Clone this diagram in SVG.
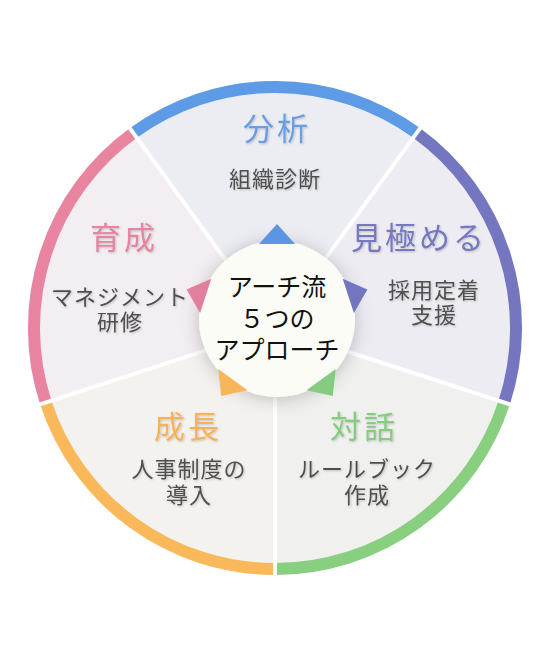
<svg xmlns="http://www.w3.org/2000/svg" width="550" height="650" viewBox="0 0 550 650">
<defs>
<style>
.jp{font-family:"Noto Sans CJK JP","Noto Sans",sans-serif;text-anchor:middle}
.h{font-size:31px;letter-spacing:3px}
.s{font-size:22px;fill:#4f4f4f;letter-spacing:1px}
.c{font-size:25px;fill:#111}
.ring{fill:none;stroke-width:12}
.div{stroke:#fff;stroke-width:4}
</style>
<filter id="sh" x="-40%" y="-40%" width="180%" height="180%">
<feDropShadow dx="0" dy="2" stdDeviation="9" flood-color="#000" flood-opacity="0.22"/>
</filter>
<filter id="ts" x="-10%" y="-20%" width="120%" height="140%">
<feDropShadow dx="1" dy="1" stdDeviation="0.8" flood-color="#000" flood-opacity="0.2"/>
</filter>
</defs>
<rect width="550" height="650" fill="#fff"/>
<g id="sectors">
<path d="M275,328 L129.8,128.2 A247,247 0 0 1 420.2,128.2 Z" fill="#ecedf2"/>
<path d="M275,328 L420.2,128.2 A247,247 0 0 1 509.9,404.3 Z" fill="#edecf2"/>
<path d="M275,328 L509.9,404.3 A247,247 0 0 1 275,575 Z" fill="#f0f1ef"/>
<path d="M275,328 L275,575 A247,247 0 0 1 40.1,404.3 Z" fill="#f3f2ef"/>
<path d="M275,328 L40.1,404.3 A247,247 0 0 1 129.8,128.2 Z" fill="#f2eef1"/>
</g>
<g id="ring">
<path class="ring" stroke="#5e9be6" d="M133.3,133 A241,241 0 0 1 416.7,133"/>
<path class="ring" stroke="#7477bf" d="M416.7,133 A241,241 0 0 1 504.2,402.5"/>
<path class="ring" stroke="#88cf80" d="M504.2,402.5 A241,241 0 0 1 275,569"/>
<path class="ring" stroke="#f9b95b" d="M275,569 A241,241 0 0 1 45.8,402.5"/>
<path class="ring" stroke="#e8849f" d="M45.8,402.5 A241,241 0 0 1 133.3,133"/>
</g>
<g id="connectors">
<line class="div" x1="275" y1="328" x2="423.1" y2="124.1"/>
<line class="div" x1="275" y1="328" x2="514.7" y2="405.9"/>
<line class="div" x1="275" y1="328" x2="275" y2="580"/>
<line class="div" x1="275" y1="328" x2="35.3" y2="405.9"/>
<line class="div" x1="275" y1="328" x2="126.9" y2="124.1"/>
</g>
<g id="center">
<circle cx="277" cy="319" r="78" fill="#fbfcf6" filter="url(#sh)"/>
<text class="jp c" x="277" y="296">アーチ流</text>
<text class="jp c" x="277" y="328">５つの</text>
<text class="jp c" x="277" y="359">アプローチ</text>
</g>
<g id="arrows">
<polygon points="259,244 295,244 277,224" fill="#5b95e3"/>
<polygon points="353.9,312.9 342.7,278.7 367.4,289.6" fill="#7376bf"/>
<polygon points="306.5,390.3 335.7,369.1 332.8,395.9" fill="#86cc80"/>
<polygon points="218.3,369.1 247.5,390.3 221.2,395.9" fill="#f8b65a"/>
<polygon points="211.3,278.7 200.1,312.9 186.6,289.6" fill="#e37f9e"/>
</g>
<g id="node-analysis" filter="url(#ts)">
<text class="jp h" x="277" y="140" fill="#6a9ee2">分析</text>
<text class="jp s" x="275" y="187">組織診断</text>
</g>
<g id="node-assess" filter="url(#ts)">
<text class="jp h" x="419" y="249" fill="#7679bf">見極める</text>
<text class="jp s" x="434" y="298">採用定着</text>
<text class="jp s" x="434" y="323">支援</text>
</g>
<g id="node-dialogue" filter="url(#ts)">
<text class="jp h" x="364" y="438" fill="#86cc80">対話</text>
<text class="jp s" x="367" y="477">ルールブック</text>
<text class="jp s" x="367" y="503">作成</text>
</g>
<g id="node-growth" filter="url(#ts)">
<text class="jp h" x="188" y="438" fill="#f6b258">成長</text>
<text class="jp s" x="189" y="477">人事制度の</text>
<text class="jp s" x="189" y="503">導入</text>
</g>
<g id="node-training" filter="url(#ts)">
<text class="jp h" x="124" y="249" fill="#e485a2">育成</text>
<text class="jp s" x="120" y="305">マネジメント</text>
<text class="jp s" x="120" y="330">研修</text>
</g>
</svg>
